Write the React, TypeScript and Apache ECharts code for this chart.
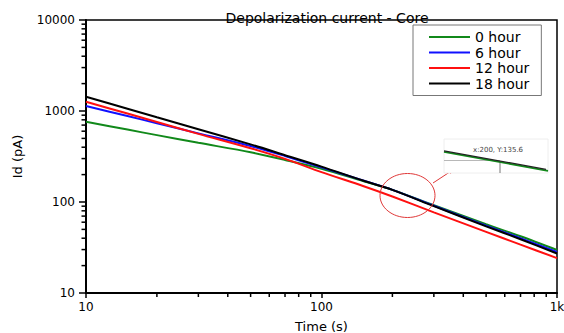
import React, { useEffect, useRef } from "react";
import * as echarts from "echarts";

const title = "Depolarization current - Core";
const xName = "Time (s)";
const yName = "Id (pA)";
const seriesNames = ["0 hour", "6 hour", "12 hour", "18 hour"];
const seriesColors = ["#11891a", "#1010ff", "#ff1010", "#000000"];
const timeValues = [10, 15, 20, 30, 50, 70, 100, 150, 200, 300, 500, 700, 1000];
const hour0 = [763, 625, 543, 447, 352, 290, 232, 170, 136, 92, 57, 42, 29.7];
const hour6 = [1135, 880, 735, 568, 412, 320, 240, 173, 136, 91, 55, 40, 28.3];
const hour12 = [1265, 937, 757, 561, 390, 298, 213, 150, 115, 77, 47, 34, 24.2];
const hour18 = [1435, 1060, 853, 630, 430, 327, 245, 172, 136, 90, 54, 39, 27.2];
const xMinorTicks = [20, 30, 40, 50, 60, 70, 80, 90, 200, 300, 400, 500, 600, 700, 800, 900];
const yMinorTicks = [20, 30, 40, 50, 60, 70, 80, 90, 200, 300, 400, 500, 600, 700, 800, 900, 2000, 3000, 4000, 5000, 6000, 7000, 8000, 9000];
const annotationText = "x:200, Y:135.6";

const FONT = "DejaVu Sans";

export default function App() {
  const ref = useRef<HTMLDivElement>(null);
  useEffect(() => {
    if (!ref.current) return;
    document.body.style.margin = "0";
    document.body.style.overflow = "hidden";
    const chart = echarts.init(ref.current, null, { renderer: "svg", width: 564, height: 333 });
    const allSeries = [hour0, hour6, hour12, hour18];
    const lineSeries = seriesNames.map((name, i) => ({
      name,
      type: "line",
      data: timeValues.map((t, j) => [t, allSeries[i][j]]),
      symbol: "none",
      smooth: 0.3,
      lineStyle: { color: seriesColors[i], width: 2 },
      itemStyle: { color: seriesColors[i] },
      z: 3 + i,
    }));
    const option: any = {
      animation: false,
      backgroundColor: "#ffffff",
      title: {
        text: title,
        left: 322,
        textAlign: "center",
        top: 6,
        textStyle: { fontFamily: FONT, fontSize: 14, fontWeight: "normal", color: "#000" },
      },
      legend: {
        data: seriesNames,
        orient: "vertical",
        left: 413,
        top: 25,
        padding: [5, 12, 5, 15],
        itemWidth: 41,
        itemHeight: 14,
        itemGap: 1.5,
        itemStyle: { opacity: 0 },
        borderColor: "#777",
        borderWidth: 1,
        backgroundColor: "#fff",
        textStyle: { fontFamily: FONT, fontSize: 14, color: "#000", lineHeight: 14 },
      },
      grid: {
        left: 86,
        right: 7,
        top: 20,
        bottom: 40,
        show: true,
        containLabel: false,
        outerBoundsMode: "none",
        borderColor: "#000",
        borderWidth: 1.5,
        backgroundColor: "#fff",
      },
      xAxis: {
        type: "log",
        logBase: 10,
        min: 10,
        max: 1000,
        name: xName,
        nameLocation: "middle",
        nameGap: 27,
        nameTextStyle: { fontFamily: FONT, fontSize: 13, color: "#000" },
        axisLine: { show: true, lineStyle: { color: "#000", width: 2 } },
        axisTick: { show: true, inside: false, length: 5, lineStyle: { color: "#000", width: 1.5 } },
        axisLabel: {
          margin: 8,
          fontFamily: FONT,
          fontSize: 12,
          color: "#000",
          formatter: (v: number) => (v >= 1000 ? v / 1000 + "k" : String(v)),
        },
        splitLine: { show: false },
      },
      yAxis: {
        type: "log",
        logBase: 10,
        min: 10,
        max: 10000,
        name: yName,
        nameLocation: "middle",
        nameGap: 62,
        nameTextStyle: { fontFamily: FONT, fontSize: 13, color: "#000" },
        axisLine: { show: true, lineStyle: { color: "#000", width: 2 } },
        axisTick: { show: true, inside: false, length: 7, lineStyle: { color: "#000", width: 1.5 } },
        axisLabel: {
          margin: 11,
          fontFamily: FONT,
          fontSize: 12,
          color: "#000",
          formatter: (v: number) => String(Math.round(v)),
        },
        splitLine: { show: false },
      },
      series: [
        ...lineSeries,
        {
          type: "custom",
          name: "xminor",
          silent: true,
          clip: false,
          data: xMinorTicks.map((v) => [v, 10]),
          encode: { x: 0, y: 1 },
          renderItem: (params: any, api: any) => {
            const p = api.coord([api.value(0), api.value(1)]);
            return {
              type: "line",
              shape: { x1: p[0], y1: p[1], x2: p[0], y2: p[1] + 4 },
              style: { stroke: "#000", lineWidth: 1.5 },
            };
          },
          z: 10,
        },
        {
          type: "custom",
          name: "yminor",
          silent: true,
          clip: false,
          data: yMinorTicks.map((v) => [10, v]),
          encode: { x: 0, y: 1 },
          renderItem: (params: any, api: any) => {
            const p = api.coord([api.value(0), api.value(1)]);
            return {
              type: "line",
              shape: { x1: p[0], y1: p[1], x2: p[0] - 4.5, y2: p[1] },
              style: { stroke: "#000", lineWidth: 1.5 },
            };
          },
          z: 10,
        },
      ],
      graphic: [
        {
          type: "ellipse",
          shape: { cx: 407.5, cy: 195.5, rx: 27.5, ry: 22 },
          style: { fill: "none", stroke: "#e03838", lineWidth: 1 },
          z: 20,
        },
        {
          type: "line",
          shape: { x1: 433, y1: 183, x2: 452, y2: 170.5 },
          style: { stroke: "#e03838", lineWidth: 1 },
          z: 20,
        },
        {
          type: "polygon",
          shape: { points: [[454, 169.5], [448, 170.5], [450.5, 174]] },
          style: { fill: "#e03838" },
          z: 20,
        },
        {
          type: "rect",
          shape: { x: 444, y: 139, width: 104, height: 34 },
          style: { fill: "#fff", stroke: "#eeeeee", lineWidth: 1 },
          z: 20,
        },
        {
          type: "line",
          shape: { x1: 444, y1: 160.5, x2: 500, y2: 160.5 },
          style: { stroke: "#b8b8b8", lineWidth: 1 },
          z: 21,
        },
        {
          type: "line",
          shape: { x1: 500, y1: 161, x2: 500, y2: 173 },
          style: { stroke: "#777", lineWidth: 1 },
          z: 21,
        },
        {
          type: "polyline",
          shape: { points: [[444, 151.8], [548, 170.8]] },
          style: { stroke: "#11891a", lineWidth: 1.8 },
          z: 22,
        },
        {
          type: "polyline",
          shape: { points: [[444, 150.8], [546, 169.4]] },
          style: { stroke: "#222", lineWidth: 1.2 },
          z: 23,
        },
        {
          type: "text",
          x: 473,
          y: 146.5,
          style: { text: annotationText, fontFamily: FONT, fontSize: 7, fill: "#444" },
          z: 23,
        },
      ],
    };
    chart.setOption(option);
    return () => chart.dispose();
  }, []);
  return (
    <div
      ref={ref}
      style={{ position: "fixed", left: 0, top: 0, width: 564, height: 333 }}
    />
  );
}
